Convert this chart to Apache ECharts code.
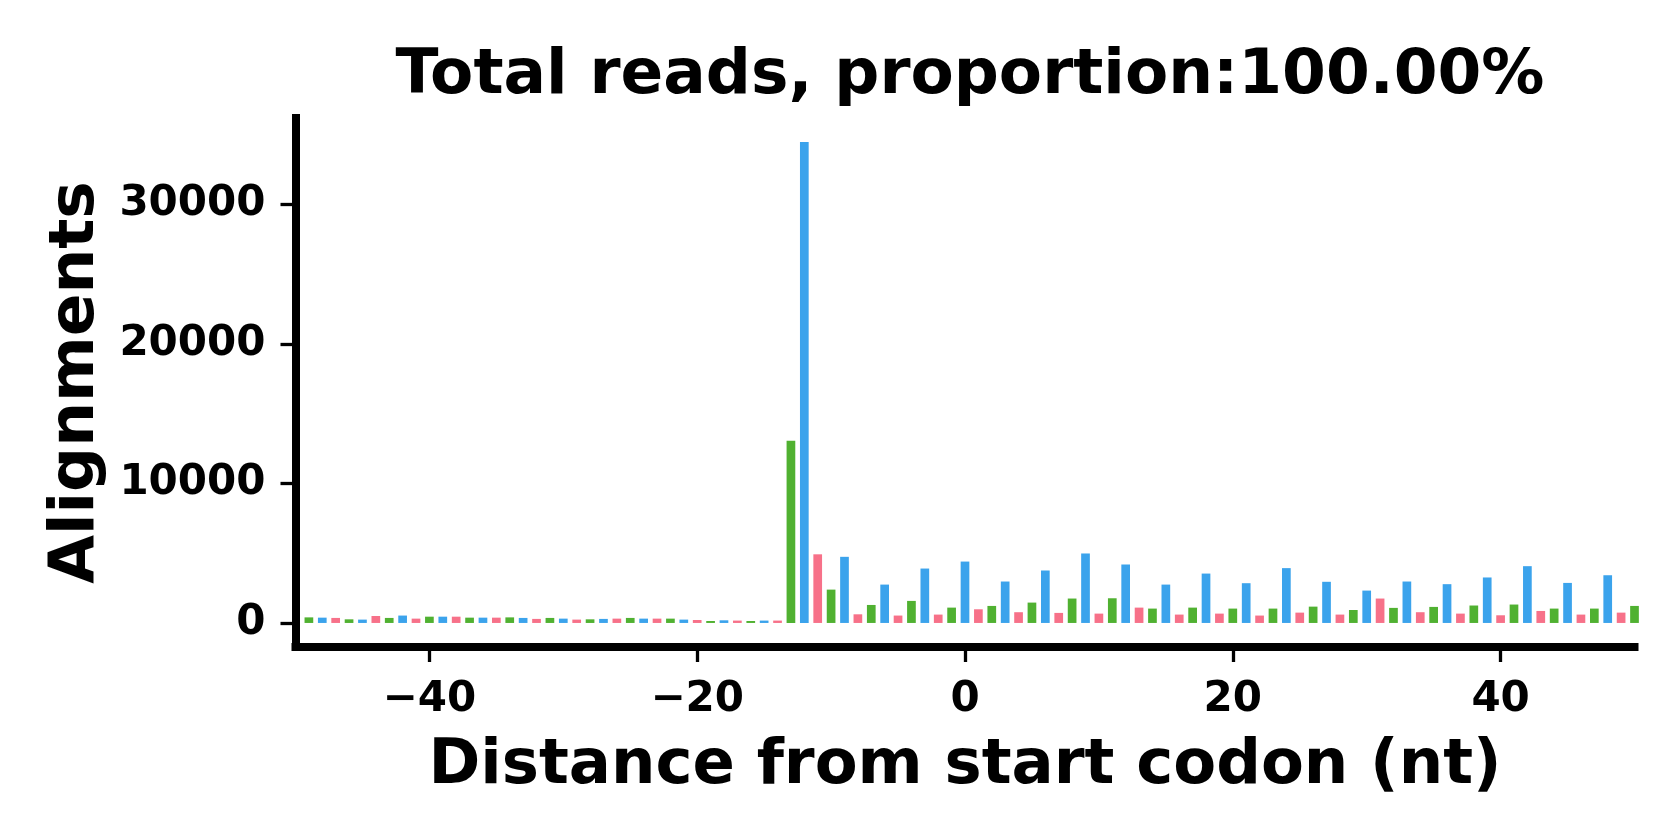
<!DOCTYPE html>
<html>
<head>
<meta charset="utf-8">
<script src="https://cdn.jsdelivr.net/npm/echarts@6/dist/echarts.min.js"></script>
<style>
  html, body { margin: 0; padding: 0; background: #ffffff; }
  #chart { width: 1680px; height: 840px; }
</style>
</head>
<body>
<div id="chart"></div>
<script>
// Distance from start codon (nt), one bar per position (-49 ... 50)
const positions = [];
for (let p = -49; p <= 50; p++) positions.push(p);

// Alignments at each position (-49 ... 50)
const alignments = [
  400, 380, 360, 260, 240, 500, 360, 530, 310,        // -49 .. -41
  450, 450, 450, 380, 380, 380, 400, 360, 290, 360,   // -40 .. -31
  310, 240, 260, 290, 310, 360, 310, 310, 310, 240,   // -30 .. -21
  210, 140, 190, 170, 140, 170, 170, 13060, 34470, 4920, // -20 .. -11
  2390, 4740, 620, 1290, 2750, 530, 1580, 3900, 600, 1100, // -10 .. -1
  4400, 980, 1220, 2970, 770, 1460, 3760, 720, 1750, 4980, // 0 .. 9
  670, 1770, 4190, 1100, 1030, 2750, 600, 1100, 3540, 670, // 10 .. 19
  1030, 2850, 530, 1030, 3930, 740, 1170, 2950, 600, 930,  // 20 .. 29
  2320, 1750, 1080, 2970, 770, 1150, 2780, 670, 1250, 3260, // 30 .. 39
  550, 1320, 4070, 860, 1030, 2870, 600, 1030, 3420, 740,   // 40 .. 49
  1220                                                      // 50
];

// Reading frames (position mod 3) and their colours
const frameNames = ['frame 0', 'frame 1', 'frame 2'];
const frameColors = ['#3ba3ec', '#f77189', '#50b131'];

// Tick labels
const xTicks = [-40, -20, 0, 20, 40];
const yTicks = [0, 10000, 20000, 30000];

const titleText = 'Total reads, proportion:100.00%';
const xLabel = 'Distance from start codon (nt)';
const yLabel = 'Alignments';

const FONT = "'DejaVu Sans', 'Liberation Sans', sans-serif";

const frameData = [[], [], []];
positions.forEach((p, i) => {
  const f = ((p % 3) + 3) % 3;
  frameData[f].push([p, alignments[i]]);
});

const maxVal = Math.max(...alignments);
const pad = 0.05 * maxVal;

const series = frameData.map((d, f) => ({
  name: frameNames[f],
  type: 'bar',
  data: d,
  barWidth: 8.7,
  barGap: '-100%',
  clip: true,
  itemStyle: { color: frameColors[f] },
  emphasis: { disabled: true }
}));

const chart = echarts.init(document.getElementById('chart'), null, { renderer: 'canvas' });
chart.setOption({
  animation: false,
  backgroundColor: '#ffffff',
  title: {
    text: titleText,
    left: 965,
    textAlign: 'center',
    top: 40,
    textStyle: { fontFamily: FONT, fontWeight: 'bold', fontSize: 63, color: '#000' }
  },
  grid: { left: 295.5, right: 45.5, top: 118, bottom: 193, containLabel: false },
  xAxis: {
    type: 'value',
    min: -50,
    max: 50,
    splitLine: { show: false },
    axisLine: { show: true, onZero: false, lineStyle: { color: '#000', width: 8, cap: 'square' } },
    axisTick: { show: true, length: 15, lineStyle: { color: '#000', width: 3.3 }, customValues: xTicks },
    axisLabel: {
      customValues: xTicks,
      margin: 32,
      fontFamily: FONT, fontWeight: 'bold', fontSize: 42, color: '#000',
      formatter: v => (v < 0 ? '\u2212' + Math.abs(v) : String(v))
    },
    name: xLabel,
    nameLocation: 'middle',
    nameGap: 88,
    nameTextStyle: { fontFamily: FONT, fontWeight: 'bold', fontSize: 62.5, color: '#000' }
  },
  yAxis: {
    type: 'value',
    min: -pad,
    max: maxVal + pad,
    splitLine: { show: false },
    axisLine: { show: true, onZero: false, lineStyle: { color: '#000', width: 8, cap: 'square' } },
    axisTick: { show: true, length: 15, lineStyle: { color: '#000', width: 3.3 }, customValues: yTicks },
    axisLabel: {
      customValues: yTicks,
      margin: 30,
      fontFamily: FONT, fontWeight: 'bold', fontSize: 42, color: '#000',
      formatter: v => String(v)
    },
    name: yLabel,
    nameLocation: 'middle',
    nameGap: 179,
    nameTextStyle: { fontFamily: FONT, fontWeight: 'bold', fontSize: 63, color: '#000' }
  },
  series: series
});
</script>
</body>
</html>
